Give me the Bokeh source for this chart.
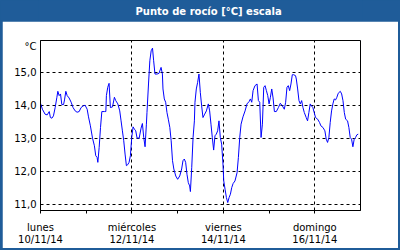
from bokeh.plotting import figure
from bokeh.layouts import column
from bokeh.models import Range1d, FixedTicker, Label, ColumnDataSource
from bokeh.embed import file_html
from bokeh.resources import INLINE

# hours since lunes 10/11/14 00:00
hours = [0.0, 1.0, 2.4, 3.5, 4.6, 5.2, 6.0, 6.8, 7.7, 8.6, 9.1, 9.8, 10.5, 11.2, 12.1, 12.6, 13.3, 14.0,
         15.0, 16.1, 17.1, 18.2, 19.2, 20.3, 21.3, 22.4, 23.4, 24.5, 25.2, 26.2, 27.3, 28.3, 29.0, 29.7,
         30.1, 30.8, 31.5, 32.2, 33.6, 34.3, 34.6, 35.3, 36.0, 36.7, 37.8, 38.8, 39.5, 40.6, 41.6, 42.3,
         43.0, 43.7, 44.4, 45.1, 45.8, 46.5, 47.2, 47.9, 48.6, 49.3, 50.0, 50.7, 51.8, 52.8, 53.5, 54.2,
         54.9, 55.6, 55.9, 56.7, 57.4, 58.1, 58.8, 59.4, 60.1, 61.2, 62.2, 63.3, 64.0, 64.3, 65.0, 65.7,
         66.4, 67.1, 67.9, 68.6, 69.3, 70.0, 71.0, 72.0, 73.1, 74.1, 74.8, 75.5, 76.2, 76.9, 77.6, 78.3,
         78.7, 79.4, 80.1, 80.8, 81.1, 81.8, 82.5, 83.2, 83.9, 84.6, 85.3, 86.0, 87.1, 88.1, 88.8, 89.5,
         90.2, 90.9, 91.6, 92.3, 93.0, 93.7, 94.4, 95.1, 95.8, 96.2, 96.9, 97.6, 98.3, 99.0, 99.7, 100.4,
         101.1, 102.1, 103.2, 103.9, 104.6, 105.3, 106.3, 107.4, 108.4, 109.5, 110.2, 110.9, 111.6, 112.6,
         113.7, 114.4, 115.1, 115.8, 116.5, 117.2, 117.9, 118.6, 119.3, 120.0, 120.7, 121.4, 122.1, 122.8,
         123.8, 124.9, 125.9, 127.0, 128.0, 128.7, 129.4, 130.1, 130.8, 131.5, 132.2, 132.9, 133.9, 134.3,
         135.0, 135.7, 136.4, 137.1, 137.8, 138.5, 139.5, 140.2, 140.9, 141.6, 142.3, 143.0, 143.7, 144.4,
         145.5, 146.5, 147.2, 148.3, 149.3, 150.0, 150.7, 151.4, 152.1, 152.8, 153.5, 154.2, 154.9, 155.6,
         156.3, 157.4, 158.1, 158.8, 159.5, 160.2, 161.2, 161.9, 162.6, 163.3, 164.0, 164.7, 165.4, 166.1,
         166.8]
dew_point = [14.06, 13.88, 13.73, 13.71, 13.81, 13.63, 13.61, 13.68, 13.93, 14.24, 14.42, 14.29, 14.34,
             14.02, 14.02, 14.16, 14.42, 14.29, 14.22, 14.09, 13.93, 13.83, 13.79, 13.81, 13.93, 13.98,
             14.00, 13.88, 13.65, 13.38, 13.01, 12.78, 12.48, 12.43, 12.28, 12.73, 13.33, 13.81, 13.81,
             13.81, 14.29, 14.54, 14.66, 13.93, 13.95, 14.24, 14.14, 14.04, 13.83, 13.53, 13.23, 12.93,
             12.53, 12.18, 12.21, 12.28, 12.48, 13.03, 13.35, 13.28, 13.23, 13.01, 13.01, 13.31, 13.45,
             13.03, 12.75, 13.43, 13.78, 14.64, 15.34, 15.64, 15.72, 15.34, 14.94, 14.94, 14.96, 15.14,
             14.94, 14.49, 14.19, 14.09, 13.78, 13.58, 13.33, 12.93, 12.33, 12.08, 11.87, 11.77, 11.87,
             12.08, 12.33, 12.38, 12.28, 11.92, 11.67, 11.57, 11.40, 12.13, 13.03, 13.53, 14.09, 14.49,
             14.69, 14.94, 14.39, 13.98, 13.63, 13.71, 13.83, 14.04, 13.83, 13.43, 13.03, 12.65, 13.08,
             13.13, 13.23, 13.53, 13.03, 12.83, 12.23, 11.72, 11.47, 11.22, 11.07, 11.22, 11.32, 11.52,
             11.64, 11.72, 11.97, 12.43, 13.03, 13.43, 13.65, 13.83, 14.04, 14.11, 14.19, 14.09, 14.44,
             14.59, 14.64, 14.14, 14.09, 13.03, 13.43, 14.54, 14.59, 14.44, 14.29, 14.04, 14.24, 14.49,
             14.22, 13.81, 13.81, 13.93, 14.06, 13.98, 13.88, 14.09, 14.54, 14.59, 14.44, 14.64, 14.92,
             14.92, 14.89, 14.79, 14.49, 14.14, 14.04, 14.14, 13.93, 13.78, 13.63, 13.53, 13.78, 14.04,
             13.98, 13.93, 13.78, 13.63, 13.58, 13.48, 13.38, 13.33, 13.23, 12.98, 12.88, 13.03, 13.48,
             13.83, 14.04, 14.19, 14.16, 14.24, 14.36, 14.42, 14.34, 14.14, 13.78, 13.58, 13.53, 13.33,
             13.03, 12.98, 12.75, 12.98, 13.03, 13.11, 13.13]

x_major_ticks = [0, 48, 96, 144]
x_minor_ticks = [24, 72, 120]
x_tick_labels = ["lunes\n10/11/14", "miércoles\n12/11/14", "viernes\n14/11/14", "domingo\n16/11/14"]
y_ticks = [11, 12, 13, 14, 15]
y_tick_labels = ["11,0", "12,0", "13,0", "14,0", "15,0"]
unit_tick = 15.77
title_text = "Punto de rocío [°C] escala"
unit_text = "°C"

FONT = "DejaVu Sans"
BLUE = "#1f5c99"

# ---- title bar ----
tp = figure(width=400, height=21, output_backend="svg", toolbar_location=None,
            x_range=Range1d(0, 400), y_range=Range1d(0, 21),
            x_axis_type=None, y_axis_type=None,
            min_border=0, background_fill_color=BLUE, border_fill_color=BLUE)
tp.outline_line_color = None
tp.grid.visible = False
tp.add_layout(Label(x=210, y=10.5, text=title_text, text_align="center", text_baseline="middle",
                    text_color="white", text_font=FONT, text_font_style="bold",
                    text_font_size="10px"))

# ---- main chart ----
p = figure(width=396, height=227, output_backend="svg", toolbar_location=None,
           x_range=Range1d(0, 168), y_range=Range1d(10.83, 15.95),
           min_border_left=38, min_border_right=38, min_border_top=19, min_border_bottom=38,
           border_fill_color="white", background_fill_color="white",
           margin=(0, 2, 2, 2))
p.outline_line_color = "black"
p.outline_line_width = 1

src = ColumnDataSource(dict(h=hours, v=dew_point))
p.line("h", "v", source=src, line_color="#0000ff", line_width=1)

xa = p.xaxis[0]
xa.ticker = FixedTicker(ticks=x_major_ticks, minor_ticks=x_minor_ticks)
xa.major_label_overrides = {t: l for t, l in zip(x_major_ticks, x_tick_labels)}
xa.major_tick_out = 3
xa.major_tick_in = 0
xa.minor_tick_out = 3
xa.minor_tick_in = 0
xa.major_label_standoff = 8
xa.major_label_text_font = FONT
xa.major_label_text_font_size = "10px"
xa.major_label_text_color = "black"
xa.major_label_text_line_height = 1.1
xa.axis_line_color = "black"
xa.major_tick_line_color = "black"
xa.minor_tick_line_color = "black"

ya = p.yaxis[0]
ya.ticker = FixedTicker(ticks=y_ticks + [unit_tick])
overrides = {t: l for t, l in zip(y_ticks, y_tick_labels)}
overrides[unit_tick] = unit_text
ya.major_label_overrides = overrides
ya.major_tick_out = 0
ya.major_tick_in = 0
ya.minor_tick_out = 0
ya.minor_tick_in = 0
ya.major_label_standoff = 4
ya.major_label_text_font = FONT
ya.major_label_text_font_size = "10px"
ya.major_label_text_color = "black"
ya.axis_line_color = "black"

p.xgrid.ticker = FixedTicker(ticks=[48, 96, 144])
p.ygrid.ticker = FixedTicker(ticks=y_ticks)
for g in (p.xgrid[0], p.ygrid[0]):
    g.grid_line_color = "black"
    g.grid_line_dash = "3 3"
    g.grid_line_width = 1

layout = column(tp, p, spacing=0, styles={"background-color": BLUE})

open("out.html", "w").write(file_html(layout, INLINE))
